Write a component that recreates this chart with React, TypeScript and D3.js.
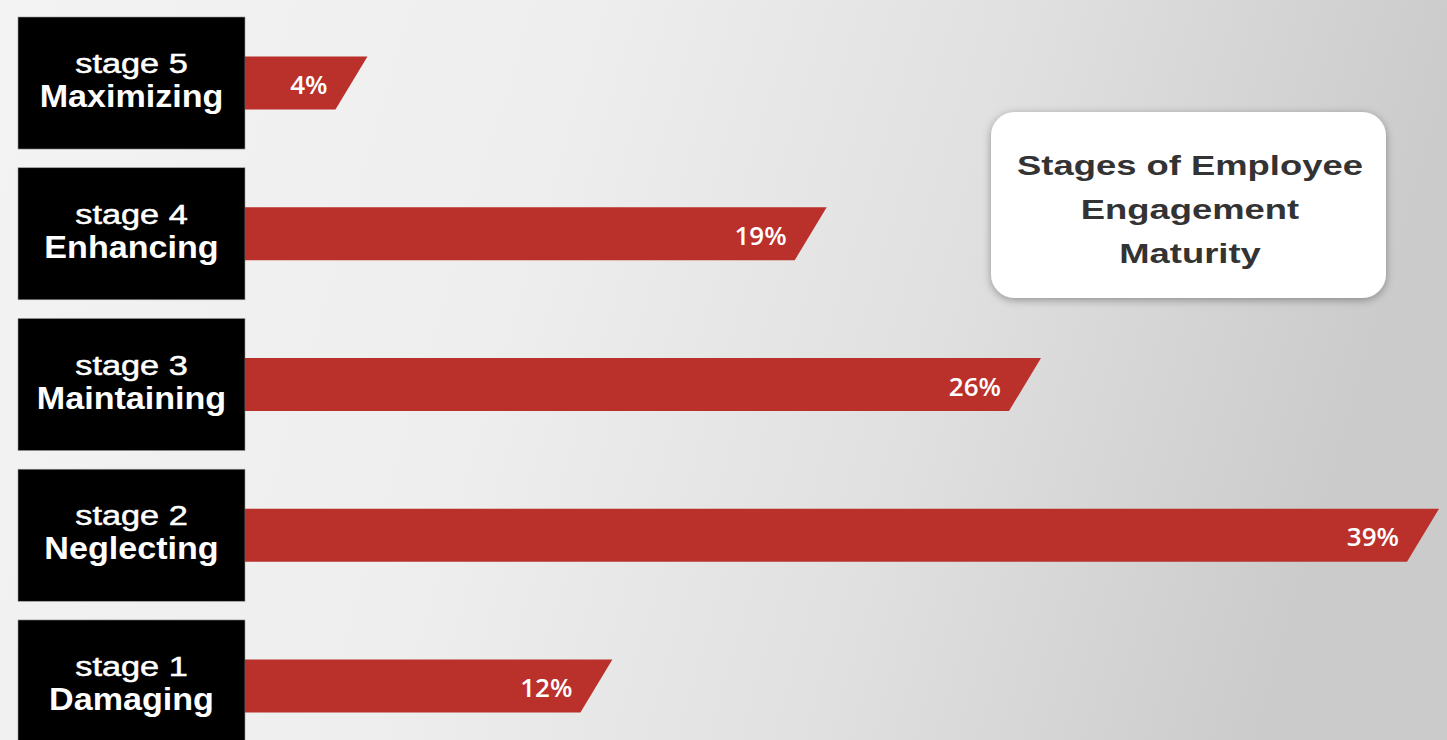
import React, { useEffect, useRef } from 'react';
import * as d3 from 'd3';

const W = 1447;
const H = 740;

// stages top to bottom, as in the picture
const stageNums = ['stage 5', 'stage 4', 'stage 3', 'stage 2', 'stage 1'];
const stageNames = ['Maximizing', 'Enhancing', 'Maintaining', 'Neglecting', 'Damaging'];
const shares = [4, 19, 26, 39, 12];
const titleLines = ['Stages of Employee', 'Engagement', 'Maturity'];

const RED = '#ba302b';

export default function App() {
  const svgRef = useRef<SVGSVGElement>(null);

  useEffect(() => {
    if (!svgRef.current) return;
    const svg = d3.select(svgRef.current);
    svg.selectAll('*').remove();

    const defs = svg.append('defs');
    const grad = defs.append('linearGradient')
      .attr('id', 'bg')
      .attr('x1', 0).attr('y1', 0).attr('x2', 1).attr('y2', 0.15);
    grad.append('stop').attr('offset', 0).attr('stop-color', '#f3f3f3');
    grad.append('stop').attr('offset', 0.4).attr('stop-color', '#eeeeee');
    grad.append('stop').attr('offset', 0.7).attr('stop-color', '#e0e0e0');
    grad.append('stop').attr('offset', 1).attr('stop-color', '#cbcbcb');

    const shadow = defs.append('filter')
      .attr('id', 'shadow')
      .attr('x', '-20%').attr('y', '-20%').attr('width', '140%').attr('height', '140%');
    shadow.append('feDropShadow')
      .attr('dx', 0).attr('dy', 2).attr('stdDeviation', 4)
      .attr('flood-color', '#000').attr('flood-opacity', 0.35);

    svg.append('rect').attr('width', W).attr('height', H).attr('fill', 'url(#bg)');

    // Scales
    const y = d3.scaleBand<number>()
      .domain(d3.range(stageNums.length))
      .range([17, 752])
      .paddingInner(0.124)
      .paddingOuter(0);

    const x = d3.scaleLinear().domain([0, 39]).range([245, 1439]);

    const boxLeft = 18;
    const boxRight = x(0);
    const barH = 53;
    const slant = 32;

    const rows = svg.append('g')
      .selectAll('g')
      .data(d3.range(stageNums.length))
      .join('g');

    // black label boxes
    rows.append('rect')
      .attr('x', boxLeft)
      .attr('y', (i) => y(i)!)
      .attr('width', boxRight - boxLeft)
      .attr('height', y.bandwidth())
      .attr('fill', '#000')
      .attr('stroke', '#9a9a9a')
      .attr('stroke-width', 0.6);

    const cx = (boxLeft + boxRight) / 2;

    rows.append('text')
      .attr('transform', (i) => `translate(${cx},${y(i)! + y.bandwidth() / 2 - 10}) scale(1.27,1)`)
      .attr('text-anchor', 'middle')
      .attr('fill', '#fff')
      .attr('stroke', '#fff')
      .attr('stroke-width', 0.5)
      .style('font-family', '"Liberation Sans", Arial, sans-serif')
      .style('font-size', '27px')
      .text((i) => stageNums[i]);

    rows.append('text')
      .attr('transform', (i) => `translate(${cx},${y(i)! + y.bandwidth() / 2 + 24}) scale(1.1,1)`)
      .attr('text-anchor', 'middle')
      .attr('fill', '#fff')
      .style('font-family', '"Liberation Sans", Arial, sans-serif')
      .style('font-weight', 700)
      .style('font-size', '31px')
      .text((i) => stageNames[i]);

    // slanted red bars
    rows.append('path')
      .attr('d', (i) => {
        const top = y(i)! + y.bandwidth() / 2 - barH / 2;
        const x0 = x(0);
        const x1 = x(shares[i]);
        return `M${x0},${top}L${x1},${top}L${x1 - slant},${top + barH}L${x0},${top + barH}Z`;
      })
      .attr('fill', RED);

    rows.append('text')
      .attr('x', (i) => x(shares[i]) - slant - 8)
      .attr('y', (i) => y(i)! + y.bandwidth() / 2 + 11)
      .attr('text-anchor', 'end')
      .attr('fill', '#fff')
      .style('font-family', '"Open Sans", "Noto Sans", sans-serif')
      .style('font-weight', 600)
      .style('font-size', '26px')
      .text((i) => `${shares[i]}%`);

    // title card
    const card = svg.append('g');
    card.append('rect')
      .attr('x', 991).attr('y', 112)
      .attr('width', 395).attr('height', 186)
      .attr('rx', 24).attr('ry', 24)
      .attr('fill', '#fff')
      .attr('filter', 'url(#shadow)');

    card.selectAll('text')
      .data(titleLines)
      .join('text')
      .attr('transform', (_, i) => `translate(1190,${175 + i * 44}) scale(1.3,1)`)
      .attr('text-anchor', 'middle')
      .attr('fill', '#333333')
      .style('font-family', '"Liberation Sans", Arial, sans-serif')
      .style('font-weight', 700)
      .style('font-size', '28px')
      .text((d) => d);
  }, []);

  return (
    <svg
      ref={svgRef}
      width={W}
      height={H}
      style={{ position: 'fixed', left: 0, top: 0, display: 'block' }}
    />
  );
}
